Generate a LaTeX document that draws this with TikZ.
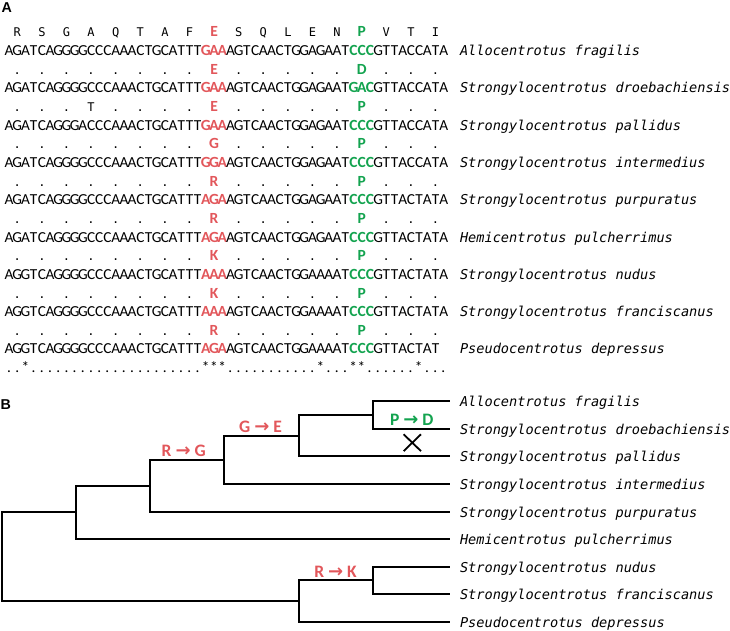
\documentclass[tikz,border=0pt]{standalone}
\usepackage{fontspec}
\usetikzlibrary{shapes.misc}
\setmainfont{Carlito}
\newfontfamily\monof{DejaVu Sans Mono}
\newfontfamily\spf{DejaVu Sans Mono}
\newfontfamily\arrf{DejaVu Sans}
\newfontfamily\labf{Liberation Sans}
\definecolor{mred}{HTML}{E2575B}
\definecolor{mgrn}{HTML}{13A34F}
\def\seqstop{\relax}
\def\sloop#1{\def\seqtmp{#1}\ifx\seqtmp\seqstop\else\makebox[8.2pt][c]{#1}\expandafter\sloop\fi}
\def\aloop#1{\def\seqtmp{#1}\ifx\seqtmp\seqstop\else\makebox[24.6pt][c]{#1}\expandafter\aloop\fi}
\newcommand\rcf{\rmfamily\bfseries\fontsize{15.5}{15.5}\selectfont\color{mred}}
\newcommand\gcf{\rmfamily\bfseries\fontsize{15.5}{15.5}\selectfont\color{mgrn}}
\newcommand\sqrow[5]{\sloop #1\relax{\rcf\sloop #2\relax}\sloop #3\relax{\gcf\sloop #4\relax}\sloop #5\relax}
\newcommand\anrow[5]{\aloop #1\relax\makebox[24.6pt][c]{\rcf #2}\aloop #3\relax\makebox[24.6pt][c]{\gcf #4}\aloop #5\relax}
\newcommand\arr{{\arrf\bfseries\fontsize{18}{18}\selectfont →}}
\begin{document}
\begin{tikzpicture}[x=1pt,y=-1pt,
  seqrow/.style={anchor=base west, inner sep=0, outer sep=0, font=\rmfamily\fontsize{15.3}{15.3}\selectfont},
  annrow/.style={anchor=base west, inner sep=0, outer sep=0, font=\monof\fontsize{12}{12}\selectfont},
  spname/.style={anchor=base west, inner sep=0, outer sep=0, font=\spf\itshape\fontsize{13.6}{13.6}\selectfont},
  panel/.style={anchor=base west, inner sep=0, font=\labf\bfseries\fontsize{14.3}{14.3}\selectfont},
  branch/.style={line width=2, line join=miter},
  mutr/.style={anchor=base, inner sep=0, text=mred, font=\rmfamily\bfseries\fontsize{17.5}{17.5}\selectfont},
  mutg/.style={anchor=base, inner sep=0, text=mgrn, font=\rmfamily\bfseries\fontsize{17.5}{17.5}\selectfont}]
\useasboundingbox (0,0) rectangle (730,631);
% Panel A
\node[panel] (pa) at (1.5,12.3) {A};
\node[annrow] (a0) at (5,37) {\anrow{R S G A Q T A F}{E}{S Q L E N}{P}{V T I}};
\node[seqrow] (s1) at (5,55.5) {\sqrow{AGATCAGGGGCCCAAACTGCATTT}{GAA}{AGTCAACTGGAGAAT}{CCC}{GTTACCATA}};
\node[annrow] (a2) at (5,74.3) {\anrow{. . . . . . . .}{E}{. . . . .}{D}{. . .}};
\node[seqrow] (s2) at (5,92.8) {\sqrow{AGATCAGGGGCCCAAACTGCATTT}{GAA}{AGTCAACTGGAGAAT}{GAC}{GTTACCATA}};
\node[annrow] (a3) at (5,111.6) {\anrow{. . . T . . . .}{E}{. . . . .}{P}{. . .}};
\node[seqrow] (s3) at (5,130.1) {\sqrow{AGATCAGGGACCCAAACTGCATTT}{GAA}{AGTCAACTGGAGAAT}{CCC}{GTTACCATA}};
\node[annrow] (a4) at (5,148.9) {\anrow{. . . . . . . .}{G}{. . . . .}{P}{. . .}};
\node[seqrow] (s4) at (5,167.4) {\sqrow{AGATCAGGGGCCCAAACTGCATTT}{GGA}{AGTCAACTGGAGAAT}{CCC}{GTTACCATA}};
\node[annrow] (a5) at (5,186.2) {\anrow{. . . . . . . .}{R}{. . . . .}{P}{. . .}};
\node[seqrow] (s5) at (5,204.7) {\sqrow{AGATCAGGGGCCCAAACTGCATTT}{AGA}{AGTCAACTGGAGAAT}{CCC}{GTTACTATA}};
\node[annrow] (a6) at (5,223.5) {\anrow{. . . . . . . .}{R}{. . . . .}{P}{. . .}};
\node[seqrow] (s6) at (5,242.0) {\sqrow{AGATCAGGGGCCCAAACTGCATTT}{AGA}{AGTCAACTGGAGAAT}{CCC}{GTTACTATA}};
\node[annrow] (a7) at (5,260.8) {\anrow{. . . . . . . .}{K}{. . . . .}{P}{. . .}};
\node[seqrow] (s7) at (5,279.3) {\sqrow{AGGTCAGGGGCCCAAACTGCATTT}{AAA}{AGTCAACTGGAAAAT}{CCC}{GTTACTATA}};
\node[annrow] (a8) at (5,298.1) {\anrow{. . . . . . . .}{K}{. . . . .}{P}{. . .}};
\node[seqrow] (s8) at (5,316.6) {\sqrow{AGGTCAGGGGCCCAAACTGCATTT}{AAA}{AGTCAACTGGAAAAT}{CCC}{GTTACTATA}};
\node[annrow] (a9) at (5,335.4) {\anrow{. . . . . . . .}{R}{. . . . .}{P}{. . .}};
\node[seqrow] (s9) at (5,353.9) {\sqrow{AGGTCAGGGGCCCAAACTGCATTT}{AGA}{AGTCAACTGGAAAAT}{CCC}{GTTACTAT}};
\node[seqrow] (cons) at (5,372.5) {\sloop ..*.....................***...........*...**......*...\relax};
\node[spname] (n1) at (460,55.5) {Allocentrotus fragilis};
\node[spname] (n2) at (460,92.8) {Strongylocentrotus droebachiensis};
\node[spname] (n3) at (460,130.1) {Strongylocentrotus pallidus};
\node[spname] (n4) at (460,167.4) {Strongylocentrotus intermedius};
\node[spname] (n5) at (460,204.7) {Strongylocentrotus purpuratus};
\node[spname] (n6) at (460,242.0) {Hemicentrotus pulcherrimus};
\node[spname] (n7) at (460,279.3) {Strongylocentrotus nudus};
\node[spname] (n8) at (460,316.6) {Strongylocentrotus franciscanus};
\node[spname] (n9) at (460,353.9) {Pseudocentrotus depressus};
% Panel B
\node[panel] (pb) at (0.5,409) {B};
\coordinate (t1) at (450,401);
\coordinate (t2) at (450,429);
\coordinate (t3) at (450,456);
\coordinate (t4) at (450,484);
\coordinate (t5) at (450,512);
\coordinate (t6) at (450,539);
\coordinate (t7) at (450,567);
\coordinate (t8) at (450,594);
\coordinate (t9) at (450,622);
\coordinate (i1) at (373,415);
\coordinate (i2) at (299,436);
\coordinate (i3) at (224,460);
\coordinate (i4) at (150,486);
\coordinate (i5) at (76,512);
\coordinate (i6) at (373,580);
\coordinate (i7) at (299,601);
\coordinate (root) at (2,556);
\draw[branch] (i1) |- (t1) (i1) |- (t2);
\draw[branch] (i2) |- (i1) (i2) |- (t3);
\draw[branch] (i3) |- (i2) (i3) |- (t4);
\draw[branch] (i4) |- (i3) (i4) |- (t5);
\draw[branch] (i5) |- (i4) (i5) |- (t6);
\draw[branch] (i6) |- (t7) (i6) |- (t8);
\draw[branch] (i7) |- (i6) (i7) |- (t9);
\draw[branch] (root) |- (i5) (root) |- (i7);
\node[spname] (b1) at (460,406) {Allocentrotus fragilis};
\node[spname] (b2) at (460,434) {Strongylocentrotus droebachiensis};
\node[spname] (b3) at (460,461) {Strongylocentrotus pallidus};
\node[spname] (b4) at (460,489) {Strongylocentrotus intermedius};
\node[spname] (b5) at (460,517) {Strongylocentrotus purpuratus};
\node[spname] (b6) at (460,544) {Hemicentrotus pulcherrimus};
\node[spname] (b7) at (460,572) {Strongylocentrotus nudus};
\node[spname] (b8) at (460,599) {Strongylocentrotus franciscanus};
\node[spname] (b9) at (460,627) {Pseudocentrotus depressus};
\node[mutr] (m1) at (183.7,456.7) {R \arr{} G};
\node[mutr] (m2) at (260.5,432.5) {G \arr{} E};
\node[mutg] (m3) at (411.7,425.2) {P \arr{} D};
\node[mutr] (m4) at (335.5,577.3) {R \arr{} K};
\node[cross out, draw, line width=1.8, minimum width=15.5, minimum height=15, inner sep=0] (x) at (412.3,442.7) {};
\end{tikzpicture}
\end{document}
